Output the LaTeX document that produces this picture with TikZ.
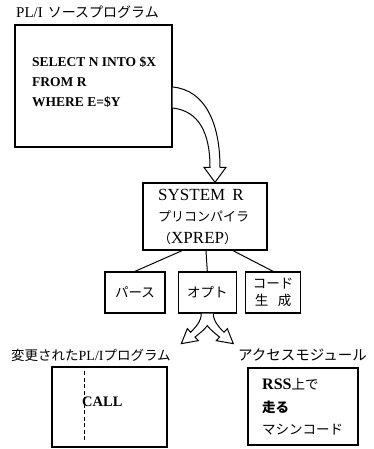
\documentclass[tikz,border=0pt]{standalone}
\usepackage{fontspec}
\setmainfont{Liberation Serif}
\newfontfamily\jp{Noto Sans CJK JP}
\usetikzlibrary{positioning,calc}

\tikzset{
  box/.style={draw, line width=1.3pt, inner sep=0pt},
  txt/.style={inner sep=0pt, font=\fontsize{14}{17}\selectfont},
  jtxt/.style={inner sep=0pt, align=center, font=\jp\fontsize{13.5}{17}\selectfont},
  codetxt/.style={inner sep=0pt, align=left, font=\bfseries\fontsize{13.5}{20}\selectfont},
  hollow/.style={draw, line width=1pt, fill=white, line join=miter},
  link/.style={line width=1pt},
}

\begin{document}
\begin{tikzpicture}[x=1pt,y=-1pt]
\useasboundingbox (0,0) rectangle (374,449);

% PL/I source
\node[box, minimum width=157pt, minimum height=122pt] (src) at (93.5,86) {};
\node[txt, anchor=west] (srctitle) at (16,12) {{\fontsize{15}{17}\selectfont PL/I}\hspace{5pt}{\jp ソースプログラム}};
\node[codetxt, anchor=west] (srccode) at (32,82) {SELECT N INTO \$X\\FROM R\\WHERE E=\$Y};

% precompiler
\node[box, minimum width=124pt, minimum height=67pt] (prep) at (205,216.5) {};
\node[inner sep=0pt, anchor=west, align=left, font=\fontsize{17}{21.5}\selectfont] (preptxt) at (158,216.5)
  {SYSTEM\hspace{7pt}R\\{\jp\fontsize{13}{21.5}\selectfont プリコンパイラ}\\{\jp\fontsize{13}{21.5}\selectfont （}XPREP{\jp\fontsize{13}{21.5}\selectfont ）}};

\node[box, jtxt, minimum width=60pt, minimum height=41pt] (parse) at (135,292.5) {パース};
\node[box, jtxt, minimum width=58pt, minimum height=41pt, right=12pt of parse] (opt) {オプト};
\node[box, jtxt, minimum width=55pt, minimum height=41pt, right=8pt of opt] (codegen) {コード\\生\hspace{0.7em}成};

\draw[link] ($(prep.south)+(-23,0)$) -- (parse.north);
\draw[link] ($(prep.south)+(1,0)$) -- (opt.north);
\draw[link] ($(prep.south)+(28,0)$) -- (codegen.north);

% hollow arrow into the precompiler
\draw[hollow] ($(src.east)+(0,1)$) .. controls +(32,3) and +(0,-45) .. ($(prep.north)+(15,-15)$)
  -- ++(6,0) -- ($(prep.north)+(10,0)$) -- ($(prep.north)+(-1,-15)$) -- ++(6,0)
  .. controls +(0,-35) and +(26,3) .. ($(src.east)+(0,22)$);

% forked arrow out of the optimizer
\draw[hollow] ($(opt.south)+(-6,0)$) .. controls +(0,8) and +(4,-4) .. ($(opt.south)+(-16.7,18.6)$)
  -- ($(opt.south)+(-20,15)$) -- ($(opt.south)+(-26,30)$) -- ($(opt.south)+(-9,27)$)
  -- ($(opt.south)+(-12.3,23.4)$) .. controls +(5,-4) and +(-3,4) .. ($(opt.south)+(0,12)$)
  .. controls +(3,4) and +(-5,-4) .. ($(opt.south)+(12.3,23.4)$)
  -- ($(opt.south)+(9,27)$) -- ($(opt.south)+(26,30)$) -- ($(opt.south)+(20,15)$)
  -- ($(opt.south)+(16.7,18.6)$) .. controls +(-4,-4) and +(0,8) .. ($(opt.south)+(6,0)$);

% modified program
\node[txt, anchor=west] (modtitle) at (11,355) {{\jp\fontsize{13.5}{17}\selectfont 変更された}PL/I{\jp\fontsize{13.5}{17}\selectfont プログラム}};
\node[box, minimum width=115pt, minimum height=80pt] (mod) at (109.5,407) {};
\node[codetxt, font=\bfseries\fontsize{14.5}{17}\selectfont, anchor=west] (call) at (82,402) {CALL};
\draw[line width=1.1pt, dash pattern=on 4pt off 2.5pt] ($(mod.north west)+(33,5)$) -- ($(mod.south west)+(33,-7)$);

% access module
\node[txt, anchor=west] (acctitle) at (238,355) {{\jp\fontsize{14.5}{17}\selectfont アクセスモジュール}};
\node[box, minimum width=110pt, minimum height=77pt] (acc) at (303,406.5) {};
\node[inner sep=0pt, anchor=west, align=left, font=\fontsize{13.5}{22.5}\selectfont] (acctxt) at (262,407)
  {{\bfseries\fontsize{16}{22.5}\selectfont RSS}{\jp 上で}\\{\jp\bfseries 走る}\\{\jp マシンコード}};
\end{tikzpicture}
\end{document}
